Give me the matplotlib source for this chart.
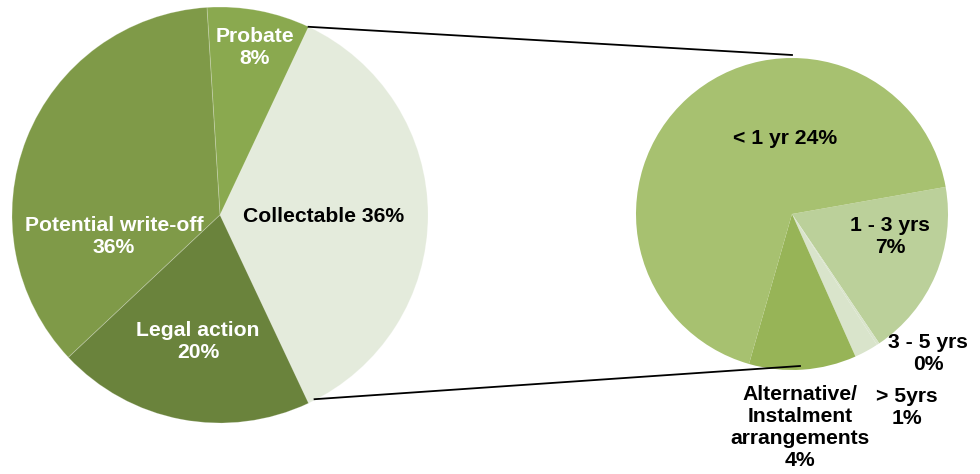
import numpy as np
import matplotlib
matplotlib.use("Agg")
import matplotlib.pyplot as plt

plt.rcParams["font.family"] = ["Liberation Sans", "DejaVu Sans"]

# main pie
main_labels = ["Collectable", "Probate", "Potential write-off", "Legal action"]
main_values = [36, 8, 36, 20]
main_colors = ["#E4EBDC", "#8AA94F", "#7F9A48", "#6A833C"]

# breakdown of the collectable slice
sub_labels = ["1 - 3 yrs", "3 - 5 yrs", "> 5yrs",
              "Alternative/\nInstalment\narrangements", "< 1 yr"]
sub_values = [6.6, 0.1, 0.9, 4.0, 24.4]
sub_colors = ["#BBD09A", "#D9E4CB", "#D9E4CB", "#97B457", "#A7C170"]

H = 474  # figure height in px, used to flip y


def ypx(y):
    return H - y


fig = plt.figure(figsize=(9.8, 4.74), dpi=100)
ax = fig.add_axes([0, 0, 1, 1])

c1, r1 = (220, ypx(215)), 208
c2, r2 = (792, ypx(214)), 156

start = -main_values[0] / sum(main_values) * 180
w1, _ = ax.pie(main_values, colors=main_colors, startangle=start,
               center=c1, radius=r1,
               wedgeprops=dict(edgecolor="#FFFFFF40", linewidth=0.6))
w2, _ = ax.pie(sub_values, colors=sub_colors, startangle=10, counterclock=False,
               center=c2, radius=r2,
               wedgeprops=dict(linewidth=0))

# connector lines from the collectable slice to the second pie
t1, t2 = np.deg2rad(w1[0].theta2), np.deg2rad(w1[0].theta1)
p_top = (c1[0] + r1 * np.cos(t1), c1[1] + r1 * np.sin(t1))
p_bot = (c1[0] + r1 * np.cos(t2), c1[1] + r1 * np.sin(t2))
ax.plot([p_top[0], c2[0]], [p_top[1], c2[1] + r2 + 3], color="black", lw=1.3)
ax.plot([p_bot[0] + 6, c2[0] + 8], [p_bot[1] + 4, c2[1] - r2 + 4], color="black", lw=1.3)

# labels
fs = 15.2
kw = dict(ha="center", va="center", fontsize=fs, fontweight="bold")
main_pct = [f"{v:.0f}%" for v in main_values]
sub_pct = [f"{v:.0f}%" for v in sub_values]

ax.text(324, ypx(216), f"{main_labels[0]} {main_pct[0]}", color="black", **kw)
ax.text(255, ypx(47), f"{main_labels[1]}\n{main_pct[1]}", color="white", **kw)
ax.text(114, ypx(236), f"{main_labels[2]}\n{main_pct[2]}", color="white", **kw)
ax.text(198, ypx(342), f"{main_labels[3]}\n{main_pct[3]}", color="white", **kw)

ax.text(785, ypx(138), f"{sub_labels[4]} {sub_pct[4]}", color="black", **kw)
ax.text(890, ypx(236), f"{sub_labels[0]}\n{sub_pct[0]}", color="black", **kw)
ax.text(928, ypx(354), f"{sub_labels[1]}\n{sub_pct[1]}", color="black", **kw)
ax.text(907, ypx(407), f"{sub_labels[2]}\n{sub_pct[2]}", color="black", **kw)
ax.text(800, ypx(427), f"{sub_labels[3]}\n{sub_pct[3]}", color="black", **kw)

ax.set_xlim(0, 980)
ax.set_ylim(0, H)
ax.axis("off")

fig.savefig("out.png", dpi=100, facecolor="white")
